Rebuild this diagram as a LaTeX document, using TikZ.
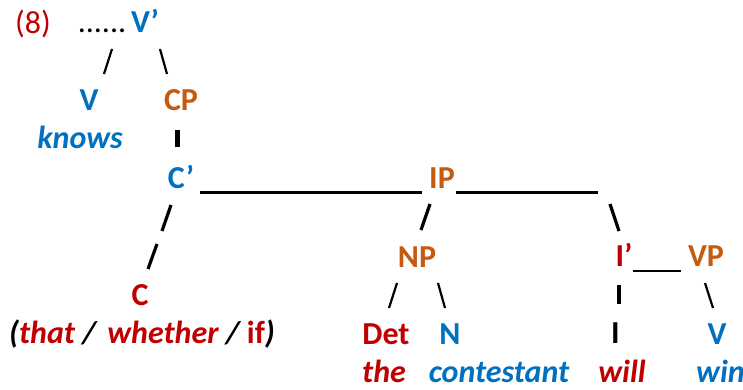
\documentclass[tikz,border=0pt]{standalone}
\usepackage{fontspec}
\setmainfont{Carlito}
\definecolor{vblue}{HTML}{0070C0}
\definecolor{porange}{HTML}{C55A11}
\definecolor{hred}{HTML}{C00000}
\begin{document}
\begin{tikzpicture}[x=1pt,y=-1pt,
  lbl/.style={inner sep=0pt, anchor=base, font=\fontsize{32}{38}\selectfont\bfseries},
  reg/.style={inner sep=0pt, anchor=base, font=\fontsize{32}{38}\selectfont},
  wrd/.style={inner sep=0pt, anchor=base, font=\fontsize{32}{38}\selectfont\bfseries\itshape},
  thinbr/.style={line width=2.2pt},
  thickbr/.style={line width=3.2pt},
  vbar/.style={line width=4.5pt},
  hbar/.style={line width=3pt}]
\useasboundingbox (0,0) rectangle (743,389);
% labels and words
\node[reg, text=hred] (ex) at (33,33) {(8)};
\node[reg] (dots) at (102,32) {......};
\node[lbl, text=vblue] (Vbar) at (145,32) {V’};
\node[lbl, text=vblue] (V) at (89,110) {V};
\node[lbl, text=porange] (CP) at (181,110) {CP};
\node[wrd, text=vblue] (knows) at (80,148) {knows};
\node[lbl, text=vblue] (Cbar) at (181,188) {C’};
\node[lbl, text=porange] (IP) at (442,188) {IP};
\node[lbl, text=porange] (NP) at (417,267) {NP};
\node[lbl, text=hred] (Ibar) at (624,266) {I’};
\node[lbl, text=porange] (VP) at (706,266) {VP};
\node[lbl, text=hred] (C) at (140,305) {C};
\node[lbl, text=hred] (Det) at (386,344) {Det};
\node[lbl, text=vblue] (N) at (450,344) {N};
\node[lbl] (I) at (615.5,343) {I};
\node[lbl, text=vblue] (V2) at (717,344) {V};
\node[wrd] (Cwords) at (142,343) {(\textcolor{hred}{that} /\hspace{0.35em}\textcolor{hred}{whether} / \textcolor{hred}{\upshape if})};
\node[wrd, text=hred] (the) at (384,382) {the};
\node[wrd, text=vblue] (contestant) at (499,382) {contestant};
\node[wrd, text=hred] (will) at (622,382) {will};
\node[wrd, text=vblue, anchor=base west] (win) at (696,382) {win};
% connectors
\coordinate (a1) at (112,49);  \coordinate (a2) at (104,74);
\coordinate (b1) at (160,49);  \coordinate (b2) at (167,74);
\coordinate (c1) at (177.5,130); \coordinate (c2) at (177.5,147);
\coordinate (d1) at (171,205); \coordinate (d2) at (162,231);
\coordinate (e1) at (157,244); \coordinate (e2) at (148,269);
\coordinate (f1) at (430,204); \coordinate (f2) at (421,230);
\coordinate (g1) at (610,204); \coordinate (g2) at (619,231);
\coordinate (h1) at (397,283); \coordinate (h2) at (389,308);
\coordinate (k1) at (438,283); \coordinate (k2) at (445,308);
\coordinate (m1) at (619,285); \coordinate (m2) at (619,304);
\coordinate (n1) at (705,283); \coordinate (n2) at (713,308);
\coordinate (p1) at (200,192); \coordinate (p2) at (422,192);
\coordinate (q1) at (456,192); \coordinate (q2) at (598,192);
\coordinate (r1) at (633,271); \coordinate (r2) at (681,271);
\draw[thinbr] (a1) -- (a2);
\draw[thinbr] (b1) -- (b2);
\draw[vbar] (c1) -- (c2);
\draw[thickbr] (d1) -- (d2);
\draw[thickbr] (e1) -- (e2);
\draw[thickbr] (f1) -- (f2);
\draw[thickbr] (g1) -- (g2);
\draw[thinbr] (h1) -- (h2);
\draw[thinbr] (k1) -- (k2);
\draw[vbar] (m1) -- (m2);
\draw[thinbr] (n1) -- (n2);
\draw[hbar] (p1) -- (p2);
\draw[hbar] (q1) -- (q2);
\draw[line width=2.5pt] (r1) -- (r2);
\end{tikzpicture}
\end{document}
